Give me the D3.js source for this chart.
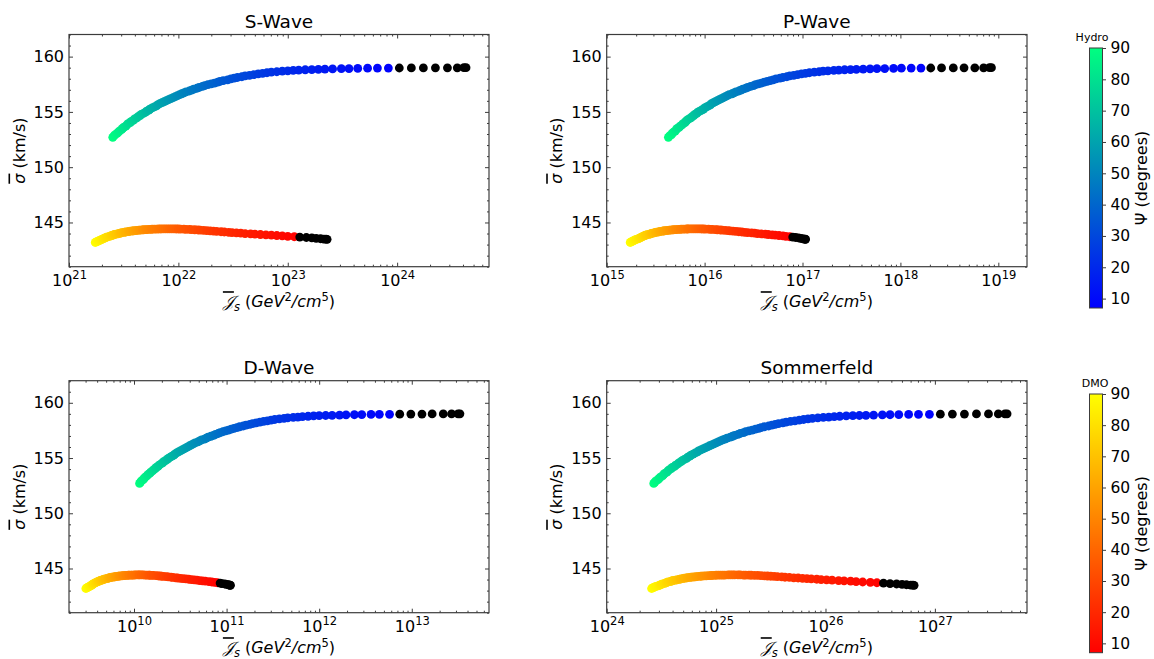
<!DOCTYPE html>
<html><head><meta charset="utf-8">
<script src="https://cdn.jsdelivr.net/npm/d3@7"></script>
<style>
body{margin:0;background:#fff}
svg{display:block}
text{font-family:"DejaVu Sans",sans-serif;fill:#000}
</style>
</head><body>
<svg id="chart" width="1154" height="659"></svg>
<script>
// ---------- DATA ----------
// angle psi (degrees) sampled along each curve
const psi = [0,1,2,3,4,5,6,7,8,9,10,11,12,13,14,15,16,17,18,19,20,21,22,23,24,25,26,27,28,29,30,31,32,33,34,35,36,37,38,39,40,41,42,43,44,45,46,47,48,49,50,51,52,53,54,55,56,57,58,59,60,61,62,63,64,65,66,67,68,69,70,71,72,73,74,75,76,77,78,79,80,81,82,83,84,85,86,87,88,89,90];

// mean velocity dispersion sigma (km/s) vs psi
const sigmaHydro = [159.00,159.00,158.99,158.99,158.99,158.98,158.98,158.97,158.96,158.96,
158.95,158.93,158.92,158.91,158.89,158.87,158.85,158.83,158.81,158.78,
158.75,158.71,158.68,158.63,158.59,158.54,158.49,158.43,158.37,158.31,
158.25,158.18,158.11,158.05,157.98,157.90,157.83,157.76,157.69,157.61,
157.53,157.46,157.38,157.30,157.22,157.14,157.06,156.97,156.89,156.81,
156.72,156.64,156.55,156.46,156.37,156.28,156.20,156.11,156.01,155.92,
155.83,155.74,155.64,155.55,155.46,155.36,155.26,155.17,155.07,154.97,
154.87,154.77,154.67,154.56,154.46,154.36,154.25,154.15,154.04,153.93,
153.83,153.72,153.61,153.50,153.39,153.27,153.16,153.05,152.93,152.82,
152.70];
const sigmaDMO = [143.48,143.49,143.50,143.53,143.56,143.60,143.64,143.68,143.71,143.75,
143.78,143.82,143.85,143.88,143.91,143.94,143.97,144.00,144.03,144.06,
144.08,144.11,144.14,144.16,144.19,144.21,144.24,144.26,144.28,144.30,
144.32,144.34,144.36,144.37,144.38,144.39,144.40,144.41,144.41,144.42,
144.42,144.42,144.42,144.42,144.42,144.41,144.41,144.40,144.40,144.39,
144.38,144.37,144.36,144.35,144.34,144.33,144.31,144.30,144.28,144.27,
144.25,144.23,144.21,144.19,144.17,144.14,144.12,144.10,144.07,144.04,
144.01,143.98,143.95,143.92,143.89,143.85,143.82,143.78,143.74,143.70,
143.66,143.61,143.57,143.52,143.48,143.43,143.38,143.34,143.29,143.24,
143.19];

// log10 of J-factor (GeV^2/cm^5) vs psi, per panel
const sWaveHydroLog10J = [24.63,24.61,24.55,24.46,24.35,24.24,24.13,24.02,23.92,23.82,
23.73,23.64,23.56,23.49,23.41,23.34,23.28,23.22,23.16,23.10,
23.05,23.00,22.95,22.90,22.85,22.81,22.77,22.73,22.69,22.65,
22.61,22.58,22.54,22.51,22.48,22.45,22.41,22.38,22.36,22.33,
22.30,22.27,22.24,22.22,22.19,22.17,22.14,22.12,22.10,22.07,
22.05,22.03,22.01,21.99,21.97,21.95,21.93,21.91,21.89,21.87,
21.85,21.83,21.81,21.80,21.78,21.76,21.74,21.73,21.71,21.70,
21.68,21.66,21.65,21.63,21.62,21.60,21.59,21.57,21.56,21.54,
21.53,21.52,21.50,21.49,21.48,21.46,21.45,21.44,21.42,21.41,
21.40];
const sWaveDMOLog10J = [23.36,23.35,23.33,23.30,23.26,23.22,23.17,23.11,23.06,23.00,
22.95,22.90,22.85,22.80,22.75,22.70,22.66,22.61,22.57,22.53,
22.49,22.46,22.42,22.39,22.35,22.32,22.29,22.26,22.23,22.20,
22.18,22.15,22.12,22.10,22.07,22.05,22.02,22.00,21.98,21.96,
21.94,21.92,21.90,21.88,21.86,21.84,21.82,21.80,21.78,21.76,
21.75,21.73,21.71,21.70,21.68,21.67,21.65,21.64,21.62,21.61,
21.59,21.58,21.56,21.55,21.54,21.52,21.51,21.50,21.48,21.47,
21.46,21.45,21.43,21.42,21.41,21.40,21.39,21.38,21.37,21.35,
21.34,21.33,21.32,21.31,21.30,21.29,21.28,21.27,21.26,21.25,
21.24];
const pWaveHydroLog10J = [18.93,18.91,18.85,18.76,18.65,18.54,18.42,18.31,18.21,18.11,
18.01,17.93,17.84,17.76,17.69,17.62,17.55,17.49,17.43,17.37,
17.32,17.26,17.21,17.17,17.12,17.07,17.03,16.99,16.95,16.91,
16.87,16.84,16.80,16.77,16.73,16.70,16.67,16.64,16.61,16.58,
16.55,16.52,16.50,16.47,16.44,16.42,16.39,16.37,16.35,16.32,
16.30,16.28,16.25,16.23,16.21,16.19,16.17,16.15,16.13,16.11,
16.09,16.07,16.06,16.04,16.02,16.00,15.99,15.97,15.95,15.93,
15.92,15.90,15.89,15.87,15.86,15.84,15.82,15.81,15.80,15.78,
15.77,15.75,15.74,15.72,15.71,15.70,15.68,15.67,15.66,15.64,
15.63];
const pWaveDMOLog10J = [17.03,17.03,17.02,17.00,16.98,16.96,16.93,16.90,16.87,16.83,
16.80,16.76,16.72,16.69,16.65,16.62,16.58,16.54,16.51,16.48,
16.44,16.41,16.38,16.35,16.32,16.29,16.26,16.24,16.21,16.18,
16.16,16.13,16.11,16.08,16.06,16.04,16.01,15.99,15.97,15.95,
15.93,15.91,15.89,15.87,15.85,15.83,15.82,15.80,15.78,15.76,
15.75,15.73,15.71,15.70,15.68,15.67,15.65,15.64,15.62,15.61,
15.59,15.58,15.57,15.55,15.54,15.53,15.51,15.50,15.49,15.47,
15.46,15.45,15.44,15.43,15.41,15.40,15.39,15.38,15.37,15.36,
15.35,15.34,15.33,15.32,15.30,15.29,15.28,15.27,15.26,15.25,
15.24];
const dWaveHydroLog10J = [13.52,13.50,13.43,13.34,13.22,13.11,12.99,12.87,12.76,12.65,
12.56,12.46,12.38,12.29,12.22,12.14,12.07,12.00,11.94,11.88,
11.82,11.77,11.72,11.66,11.62,11.57,11.52,11.48,11.44,11.40,
11.36,11.32,11.28,11.25,11.21,11.18,11.14,11.11,11.08,11.05,
11.02,10.99,10.96,10.93,10.91,10.88,10.86,10.83,10.80,10.78,
10.76,10.73,10.71,10.69,10.66,10.64,10.62,10.60,10.58,10.56,
10.54,10.52,10.50,10.48,10.46,10.44,10.43,10.41,10.39,10.37,
10.36,10.34,10.32,10.31,10.29,10.27,10.26,10.24,10.23,10.21,
10.20,10.18,10.17,10.15,10.14,10.12,10.11,10.10,10.08,10.07,
10.06];
const dWaveDMOLog10J = [11.04,11.04,11.03,11.02,11.00,10.98,10.95,10.93,10.90,10.87,
10.84,10.81,10.77,10.74,10.71,10.68,10.65,10.62,10.59,10.56,
10.53,10.50,10.47,10.45,10.42,10.40,10.37,10.35,10.32,10.30,
10.28,10.26,10.24,10.21,10.19,10.17,10.16,10.14,10.12,10.10,
10.08,10.06,10.05,10.03,10.01,10.00,9.98,9.97,9.95,9.94,
9.92,9.91,9.89,9.88,9.87,9.85,9.84,9.83,9.81,9.80,
9.79,9.78,9.76,9.75,9.74,9.73,9.72,9.71,9.69,9.68,
9.67,9.66,9.65,9.64,9.63,9.62,9.61,9.60,9.59,9.58,
9.57,9.56,9.55,9.55,9.54,9.53,9.52,9.51,9.50,9.49,
9.48];
const sommerfeldHydroLog10J = [27.66,27.64,27.58,27.49,27.38,27.27,27.16,27.05,26.95,26.85,
26.76,26.67,26.59,26.52,26.44,26.37,26.31,26.25,26.19,26.13,
26.08,26.03,25.98,25.93,25.88,25.84,25.80,25.76,25.72,25.68,
25.64,25.61,25.57,25.54,25.51,25.48,25.44,25.41,25.39,25.36,
25.33,25.30,25.27,25.25,25.22,25.20,25.17,25.15,25.13,25.10,
25.08,25.06,25.04,25.02,25.00,24.98,24.96,24.94,24.92,24.90,
24.88,24.86,24.84,24.83,24.81,24.79,24.77,24.76,24.74,24.73,
24.71,24.69,24.68,24.66,24.65,24.63,24.62,24.60,24.59,24.57,
24.56,24.55,24.53,24.52,24.51,24.49,24.48,24.47,24.45,24.44,
24.43];
const sommerfeldDMOLog10J = [26.81,26.80,26.78,26.74,26.70,26.65,26.59,26.53,26.47,26.41,
26.34,26.28,26.23,26.17,26.12,26.06,26.01,25.96,25.92,25.87,
25.83,25.79,25.75,25.71,25.67,25.63,25.60,25.56,25.53,25.50,
25.47,25.44,25.41,25.38,25.35,25.32,25.30,25.27,25.25,25.22,
25.20,25.17,25.15,25.13,25.11,25.08,25.06,25.04,25.02,25.00,
24.98,24.96,24.95,24.93,24.91,24.89,24.87,24.86,24.84,24.82,
24.81,24.79,24.77,24.76,24.74,24.73,24.71,24.70,24.68,24.67,
24.66,24.64,24.63,24.61,24.60,24.59,24.58,24.56,24.55,24.54,
24.53,24.51,24.50,24.49,24.48,24.47,24.45,24.44,24.43,24.42,
24.41];

const panelTitles = ["S-Wave", "P-Wave", "D-Wave", "Sommerfeld"];
const yTickValues = [145, 150, 155, 160];
const colorbarTicks = [10, 20, 30, 40, 50, 60, 70, 80, 90];
const psiColorRange = [7, 90];      // colour normalisation of psi
const psiBlackBelow = 8;            // points with psi below this are black
const yRange = [141, 162];

// ---------- LAYOUT ----------
const panels = [
  {title: panelTitles[0], hydro: sWaveHydroLog10J, dmo: sWaveDMOLog10J, xExp: [21, 24.84], left: 69, right: 489, top: 34.5, bottom: 266.7},
  {title: panelTitles[1], hydro: pWaveHydroLog10J, dmo: pWaveDMOLog10J, xExp: [15, 19.293], left: 606.7, right: 1027, top: 34.5, bottom: 266.7},
  {title: panelTitles[2], hydro: dWaveHydroLog10J, dmo: dWaveDMOLog10J, xExp: [9.298, 13.834], left: 69, right: 489, top: 380.7, bottom: 612.7},
  {title: panelTitles[3], hydro: sommerfeldHydroLog10J, dmo: sommerfeldDMOLog10J, xExp: [24, 27.842], left: 606.7, right: 1027, top: 380.7, bottom: 612.7}
];
const SPINE = "#3c3c3c";
const R = 4.4;

const winter = t => d3.rgb(0, Math.round(255 * t), Math.round(255 * (1 - 0.5 * t))).toString();
const autumn = t => d3.rgb(255, Math.round(255 * t), 0).toString();
const cnorm = d3.scaleLinear().domain(psiColorRange).range([0, 1]).clamp(true);

const svg = d3.select("#chart");

function styleAxis(g) {
  g.select(".domain").remove();
  g.selectAll(".tick line").attr("stroke", SPINE).attr("stroke-width", 1);
  g.selectAll(".tick text").attr("font-size", 16).attr("font-family", "DejaVu Sans").attr("fill", "#000");
}

panels.forEach(p => {
  const x = d3.scaleLog().domain([Math.pow(10, p.xExp[0]), Math.pow(10, p.xExp[1])]).range([p.left, p.right]);
  const y = d3.scaleLinear().domain(yRange).range([p.bottom, p.top]);
  const g = svg.append("g");

  // scatter points
  [{logJ: p.hydro, sig: sigmaHydro, cmap: winter}, {logJ: p.dmo, sig: sigmaDMO, cmap: autumn}].forEach(s => {
    const pts = psi.map((ps, i) => ({ps, J: Math.pow(10, s.logJ[i]), sg: s.sig[i]}));
    const colored = pts.filter(d => d.ps >= psiBlackBelow).sort((a, b) => b.ps - a.ps);
    const black = pts.filter(d => d.ps < psiBlackBelow).sort((a, b) => b.ps - a.ps);
    g.append("g").selectAll("circle").data(colored.concat(black)).join("circle")
      .attr("cx", d => x(d.J)).attr("cy", d => y(d.sg)).attr("r", R)
      .attr("fill", d => d.ps < psiBlackBelow ? "#000" : s.cmap(cnorm(d.ps)));
  });

  // ticks
  const all = x.ticks();
  const majors = all.filter(v => Math.abs(Math.log10(v) - Math.round(Math.log10(v))) < 1e-9);
  const minors = all.filter(v => !majors.includes(v));
  const yMinor = d3.range(yRange[0], yRange[1] + 1).filter(v => !yTickValues.includes(v));

  const gb = g.append("g").attr("transform", `translate(0,${p.bottom})`)
    .call(d3.axisBottom(x).tickValues(majors).tickSizeInner(-4).tickSizeOuter(0).tickPadding(8));
  styleAxis(gb);
  gb.selectAll(".tick text").each(function(d) {
    const t = d3.select(this);
    t.text(null);
    t.append("tspan").text("10");
    t.append("tspan").attr("dy", -7).attr("font-size", 11.5).text(Math.round(Math.log10(d)));
  });
  styleAxis(g.append("g").attr("transform", `translate(0,${p.bottom})`)
    .call(d3.axisBottom(x).tickValues(minors).tickSizeInner(-2).tickSizeOuter(0).tickFormat("")));
  styleAxis(g.append("g").attr("transform", `translate(0,${p.top})`)
    .call(d3.axisTop(x).tickValues(majors).tickSizeInner(-4).tickSizeOuter(0).tickFormat("")));
  styleAxis(g.append("g").attr("transform", `translate(0,${p.top})`)
    .call(d3.axisTop(x).tickValues(minors).tickSizeInner(-2).tickSizeOuter(0).tickFormat("")));

  const gl = g.append("g").attr("transform", `translate(${p.left},0)`)
    .call(d3.axisLeft(y).tickValues(yTickValues).tickSizeInner(-4).tickSizeOuter(0).tickPadding(5));
  styleAxis(gl);
  styleAxis(g.append("g").attr("transform", `translate(${p.left},0)`)
    .call(d3.axisLeft(y).tickValues(yMinor).tickSizeInner(-2).tickSizeOuter(0).tickFormat("")));
  styleAxis(g.append("g").attr("transform", `translate(${p.right},0)`)
    .call(d3.axisRight(y).tickValues(yTickValues).tickSizeInner(-4).tickSizeOuter(0).tickFormat("")));
  styleAxis(g.append("g").attr("transform", `translate(${p.right},0)`)
    .call(d3.axisRight(y).tickValues(yMinor).tickSizeInner(-2).tickSizeOuter(0).tickFormat("")));

  // spines
  g.append("rect").attr("x", p.left).attr("y", p.top).attr("width", p.right - p.left).attr("height", p.bottom - p.top)
    .attr("fill", "none").attr("stroke", SPINE).attr("stroke-width", 1.2);

  // title
  g.append("text").attr("x", (p.left + p.right) / 2).attr("y", p.top - 6.5)
    .attr("text-anchor", "middle").attr("font-size", 18.5).text(p.title);

  // y label
  const yl = g.append("text")
    .attr("transform", `translate(${p.left - 44.5},${(p.top + p.bottom) / 2}) rotate(-90)`)
    .attr("text-anchor", "middle").attr("font-size", 16);
  yl.append("tspan").attr("font-style", "italic").style("text-decoration", "overline").text("σ");
  yl.append("tspan").text(" (km/s)");

  // x label
  const xl = g.append("text").attr("x", (p.left + p.right) / 2).attr("y", p.bottom + 40.5)
    .attr("text-anchor", "middle").attr("font-size", 16);
  xl.append("tspan").attr("font-style", "italic").style("text-decoration", "overline").text("𝒥");
  xl.append("tspan").attr("font-style", "italic").attr("font-size", 11.5).attr("dy", 4).text("s");
  xl.append("tspan").attr("dy", -4).text(" (");
  xl.append("tspan").attr("font-style", "italic").text("GeV");
  xl.append("tspan").attr("font-size", 11.5).attr("dy", -6).text("2");
  xl.append("tspan").attr("font-style", "italic").attr("dy", 6).text("/cm");
  xl.append("tspan").attr("font-size", 11.5).attr("dy", -6).text("5");
  xl.append("tspan").attr("dy", 6).text(")");
});

// ---------- COLORBARS ----------
const colorbars = [
  {name: "Hydro", cmap: winter, x: 1089.5, w: 13, top: 48, bottom: 308, capX: 1092, capY: 41},
  {name: "DMO", cmap: autumn, x: 1089.5, w: 13, top: 394, bottom: 652.7, capX: 1095, capY: 387}
];
const defs = svg.append("defs");
colorbars.forEach((cb, k) => {
  const gid = "grad" + k;
  const grad = defs.append("linearGradient").attr("id", gid).attr("x1", 0).attr("y1", 1).attr("x2", 0).attr("y2", 0);
  d3.range(0, 1.0001, 0.1).forEach(t => grad.append("stop").attr("offset", t).attr("stop-color", cb.cmap(t)));
  const g = svg.append("g");
  g.append("rect").attr("x", cb.x).attr("y", cb.top).attr("width", cb.w).attr("height", cb.bottom - cb.top)
    .attr("fill", `url(#${gid})`).attr("stroke", SPINE).attr("stroke-width", 1);
  const s = d3.scaleLinear().domain(psiColorRange).range([cb.bottom, cb.top]);
  const ax = g.append("g").attr("transform", `translate(${cb.x + cb.w},0)`)
    .call(d3.axisRight(s).tickValues(colorbarTicks).tickSizeInner(3.5).tickSizeOuter(0).tickPadding(4.5));
  styleAxis(ax);
  ax.selectAll(".tick text").attr("font-size", 15.5);
  g.append("text").attr("transform", `translate(1146.5,${(cb.top + cb.bottom) / 2}) rotate(-90)`)
    .attr("text-anchor", "middle").attr("font-size", 16).text("Ψ (degrees)");
  g.append("text").attr("x", cb.capX).attr("y", cb.capY).attr("text-anchor", "middle").attr("font-size", 11).text(cb.name);
});
</script>
</body></html>
